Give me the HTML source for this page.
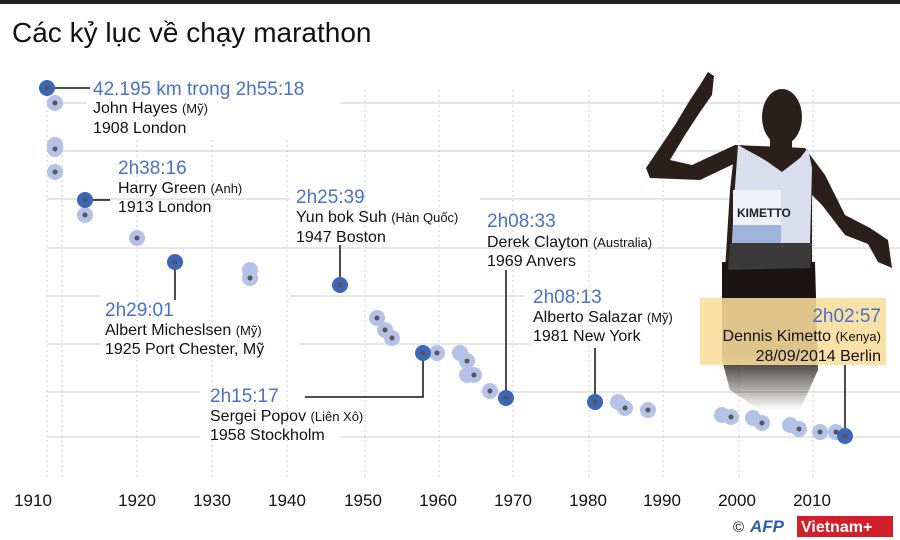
<!DOCTYPE html>
<html><head><meta charset="utf-8"><style>
html,body{margin:0;padding:0;background:#fff;}
svg{display:block;font-family:"Liberation Sans","DejaVu Sans",sans-serif;}
.b{fill:#4a72c4;font-size:19px;}
.k{fill:#111;font-size:16px;}
.s{font-size:13px;}
</style></head><body>
<svg width="900" height="540" viewBox="0 0 900 540">
<rect x="0" y="0" width="900" height="4" fill="#222"/>
<text x="12" y="42" font-size="28" fill="#111">Các kỷ lục về chạy marathon</text>
<g stroke="#c8ccd2" stroke-width="1">
<line x1="340" y1="103" x2="900" y2="103"/>
<line x1="47" y1="151" x2="900" y2="151"/>
<line x1="47" y1="199" x2="290" y2="199"/><line x1="480" y1="199" x2="900" y2="199"/>
<line x1="47" y1="248" x2="900" y2="248"/>
<line x1="47" y1="296" x2="100" y2="296"/><line x1="290" y1="296" x2="525" y2="296"/>
<line x1="47" y1="344" x2="100" y2="344"/><line x1="300" y1="344" x2="530" y2="344"/>
<line x1="47" y1="392" x2="200" y2="392"/><line x1="480" y1="392" x2="900" y2="392"/>
<line x1="47" y1="437" x2="200" y2="437"/><line x1="340" y1="437" x2="900" y2="437"/>
</g>
<g stroke="#c8ccd2" stroke-width="1" stroke-dasharray="2,3">
<line x1="47" y1="90" x2="47" y2="480"/>
<line x1="62" y1="140" x2="62" y2="480"/>
<line x1="137" y1="140" x2="137" y2="480"/>
<line x1="212" y1="140" x2="212" y2="480"/>
<line x1="287" y1="140" x2="287" y2="480"/>
<line x1="365" y1="90" x2="365" y2="480"/>
<line x1="439" y1="90" x2="439" y2="480"/>
<line x1="513" y1="90" x2="513" y2="480"/>
<line x1="589" y1="90" x2="589" y2="480"/>
<line x1="663" y1="90" x2="663" y2="480"/>
<line x1="739" y1="90" x2="739" y2="480"/>
<line x1="813" y1="90" x2="813" y2="480"/>
</g>
<defs><linearGradient id="fade" x1="0" y1="0" x2="0" y2="1">
<stop offset="0.6" stop-color="#1a1512"/><stop offset="1" stop-color="#1a1512" stop-opacity="0"/></linearGradient></defs>
<g fill="#2a1f1a">
<path d="M708 72 L714 76 L712 95 L700 112 L685 135 L670 160 L692 165 L735 145 L742 160 L700 180 L650 178 L646 168 L675 125 L690 100 L700 85 Z"/>
<path d="M735 145 L805 148 L825 175 L845 215 L870 228 L888 240 L892 268 L878 262 L868 244 L845 235 L822 205 L812 195 L812 270 L725 270 L730 190 Z"/>
<ellipse cx="782" cy="117" rx="20" ry="28"/>
<rect x="770" y="135" width="22" height="18"/>
</g>
<path d="M722 262 L815 262 L818 370 L800 410 L760 410 L730 390 L722 360 Z" fill="url(#fade)"/>
<path d="M738 145 L765 160 L782 172 L800 158 L808 148 L812 168 L810 245 L732 245 L734 200 Z" fill="#d8deec"/>
<rect x="733" y="190" width="48" height="55" fill="#eef1f7"/>
<rect x="733" y="225" width="48" height="18" fill="#9fb3dc"/>
<text x="737" y="217" font-size="12" fill="#222" font-weight="bold">KIMETTO</text>
<path d="M730 243 L812 243 L810 268 L728 270 Z" fill="#3a3a3a"/>
<rect x="700" y="298" width="186" height="67" fill="#f9dd9c" fill-opacity="0.88"/>
<text x="881" y="322" class="b" text-anchor="end">2h02:57</text>
<text x="881" y="341" class="k" text-anchor="end">Dennis Kimetto <tspan class="s">(Kenya)</tspan></text>
<text x="881" y="361" class="k" text-anchor="end">28/09/2014 Berlin</text>
<g stroke="#111" stroke-width="1.5" fill="none">
<line x1="47" y1="88" x2="90" y2="88"/>
<line x1="85" y1="200" x2="110" y2="200"/>
<line x1="340" y1="245" x2="340" y2="285"/>
<line x1="175" y1="262" x2="175" y2="300"/>
<polyline points="305,397 423,397 423,353"/>
<line x1="506" y1="270" x2="506" y2="398"/>
<line x1="595" y1="348" x2="595" y2="402"/>
<line x1="845" y1="365" x2="845" y2="436"/>
</g>
<line x1="55" y1="103" x2="87" y2="103" stroke="#c8ccd2"/>
<g fill="#b3c2e6">
<circle cx="55" cy="103" r="8"/><circle cx="55" cy="145" r="8"/><circle cx="55" cy="149" r="8"/><circle cx="55" cy="172" r="8"/>
<circle cx="85" cy="215" r="8"/><circle cx="137" cy="238" r="8"/><circle cx="250" cy="270" r="8"/><circle cx="250" cy="278" r="8"/>
<circle cx="377" cy="318" r="8"/><circle cx="385" cy="330" r="8"/><circle cx="392" cy="338" r="8"/>
<circle cx="437" cy="353" r="8"/><circle cx="460" cy="353" r="8"/><circle cx="467" cy="361" r="8"/><circle cx="467" cy="375" r="8"/><circle cx="474" cy="375" r="8"/>
<circle cx="490" cy="391" r="8"/><circle cx="618" cy="402" r="8"/><circle cx="625" cy="408" r="8"/><circle cx="648" cy="410" r="8"/>
<circle cx="722" cy="415" r="8"/><circle cx="731" cy="417" r="8"/><circle cx="753" cy="418" r="8"/><circle cx="762" cy="423" r="8"/>
<circle cx="790" cy="425" r="8"/><circle cx="799" cy="429" r="8"/><circle cx="820" cy="432" r="8"/><circle cx="836" cy="432" r="8"/>
</g>
<g fill="#3d66b8">
<circle cx="47" cy="88" r="8"/><circle cx="85" cy="200" r="8"/><circle cx="175" cy="262" r="8"/><circle cx="340" cy="285" r="8"/>
<circle cx="423" cy="353" r="8"/><circle cx="506" cy="398" r="8"/><circle cx="595" cy="402" r="8"/><circle cx="845" cy="436" r="8"/>
</g>
<g fill="#555">
<circle cx="47" cy="88" r="2.5"/><circle cx="55" cy="103" r="2.5"/><circle cx="55" cy="149" r="2.5"/><circle cx="55" cy="172" r="2.5"/>
<circle cx="85" cy="200" r="2.5"/><circle cx="85" cy="215" r="2.5"/><circle cx="137" cy="238" r="2.5"/><circle cx="175" cy="262" r="2.5"/>
<circle cx="250" cy="278" r="2.5"/><circle cx="340" cy="285" r="2.5"/><circle cx="377" cy="318" r="2.5"/><circle cx="385" cy="330" r="2.5"/><circle cx="392" cy="338" r="2.5"/>
<circle cx="423" cy="353" r="2.5"/><circle cx="437" cy="353" r="2.5"/><circle cx="467" cy="361" r="2.5"/><circle cx="474" cy="375" r="2.5"/>
<circle cx="490" cy="391" r="2.5"/><circle cx="506" cy="398" r="2.5"/><circle cx="595" cy="402" r="2.5"/><circle cx="625" cy="408" r="2.5"/><circle cx="648" cy="410" r="2.5"/>
<circle cx="731" cy="417" r="2.5"/><circle cx="762" cy="423" r="2.5"/><circle cx="799" cy="429" r="2.5"/><circle cx="820" cy="432" r="2.5"/><circle cx="836" cy="432" r="2.5"/><circle cx="845" cy="436" r="2.5"/>
</g>
<text x="93" y="95" class="b">42.195 km trong 2h55:18</text>
<text x="93" y="113" class="k">John Hayes <tspan class="s">(Mỹ)</tspan></text>
<text x="93" y="133" class="k">1908 London</text>
<text x="118" y="174" class="b">2h38:16</text>
<text x="118" y="193" class="k">Harry Green <tspan class="s">(Anh)</tspan></text>
<text x="118" y="212" class="k">1913 London</text>
<text x="296" y="203" class="b">2h25:39</text>
<text x="296" y="222" class="k">Yun bok Suh <tspan class="s">(Hàn Quốc)</tspan></text>
<text x="296" y="242" class="k">1947 Boston</text>
<text x="105" y="316" class="b">2h29:01</text>
<text x="105" y="335" class="k">Albert Micheslsen <tspan class="s">(Mỹ)</tspan></text>
<text x="105" y="354" class="k">1925 Port Chester, Mỹ</text>
<text x="210" y="402" class="b">2h15:17</text>
<text x="210" y="421" class="k">Sergei Popov <tspan class="s">(Liên Xô)</tspan></text>
<text x="210" y="440" class="k">1958 Stockholm</text>
<text x="487" y="227" class="b">2h08:33</text>
<text x="487" y="247" class="k">Derek Clayton <tspan class="s">(Australia)</tspan></text>
<text x="487" y="266" class="k">1969  Anvers</text>
<text x="533" y="303" class="b">2h08:13</text>
<text x="533" y="322" class="k">Alberto Salazar <tspan class="s">(Mỹ)</tspan></text>
<text x="533" y="341" class="k">1981 New York</text>
<g font-size="17" fill="#111" text-anchor="middle">
<text x="33" y="506">1910</text><text x="137" y="506">1920</text><text x="212" y="506">1930</text><text x="287" y="506">1940</text>
<text x="363" y="506">1950</text><text x="438" y="506">1960</text><text x="513" y="506">1970</text><text x="588" y="506">1980</text>
<text x="662" y="506">1990</text><text x="737" y="506">2000</text><text x="812" y="506">2010</text>
</g>
<text x="733" y="532" font-size="15" fill="#111">©</text>
<text x="750" y="532" font-size="17" font-weight="bold" font-style="italic" fill="#2e5db8">AFP</text>
<rect x="797" y="516" width="96" height="21" fill="#d0202a"/>
<text x="801" y="532" font-size="16" font-weight="bold" fill="#fff">Vietnam+</text>
</svg>
</body></html>
